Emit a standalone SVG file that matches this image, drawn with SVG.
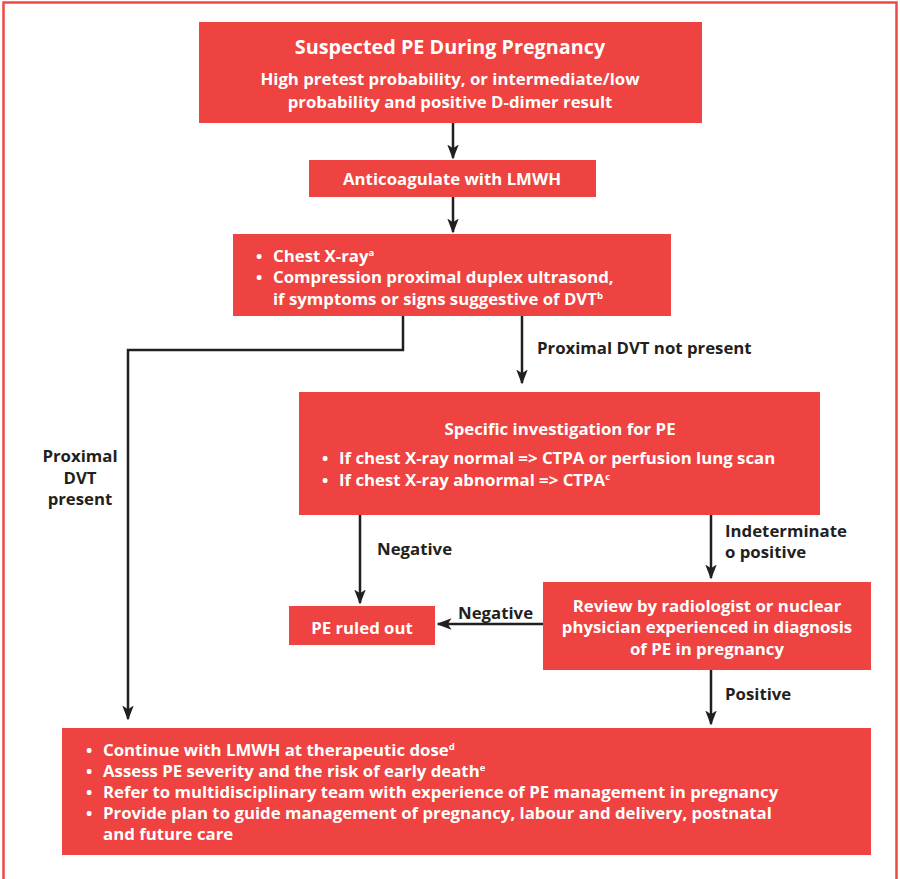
<svg xmlns="http://www.w3.org/2000/svg" width="900" height="879" viewBox="0 0 900 879">
  <defs>
    <marker id="arrow" viewBox="0 0 10 10" refX="9" refY="5" markerWidth="6" markerHeight="4.6" markerUnits="strokeWidth" orient="auto" preserveAspectRatio="none">
      <path d="M0,0 L10,5 L0,10 L2.5,5 Z" fill="#231f20"/>
    </marker>
    <style>
      .box { fill: #ee4340; }
      .t { font-family: "Open Sans", "Liberation Sans", Arial, sans-serif; font-weight: bold; fill: #ffffff; font-size: 16.8px; }
      .title { font-size: 19.8px; }
      .mid { text-anchor: middle; }
      .lbl { font-family: "Open Sans", "Liberation Sans", Arial, sans-serif; font-weight: bold; fill: #231f20; font-size: 16.8px; }
      .sup { font-size: 9.5px; }
      .edge { fill: none; stroke: #231f20; stroke-width: 2.5; marker-end: url(#arrow); }
    </style>
  </defs>

  <rect x="3.5" y="2.5" width="893" height="900" fill="#ffffff" stroke="#f04a45" stroke-width="2.5"/>

  <g id="connectors">
    <path class="edge" d="M453,123 V158"/>
    <path class="edge" d="M453,197 V232"/>
    <path class="edge" d="M403,316 V350 H128 V719"/>
    <path class="edge" d="M522,316 V383"/>
    <path class="edge" d="M360,515 V603"/>
    <path class="edge" d="M711,515 V578"/>
    <path class="edge" d="M543,624 H438"/>
    <path class="edge" d="M711,670 V724"/>
    <text class="lbl" x="537" y="354">Proximal DVT not present</text>
    <text class="lbl mid" x="80" y="462">Proximal</text>
    <text class="lbl mid" x="80" y="484">DVT</text>
    <text class="lbl mid" x="80" y="505">present</text>
    <text class="lbl" x="377" y="555">Negative</text>
    <text class="lbl" x="725" y="537">Indeterminate</text>
    <text class="lbl" x="725" y="558">o positive</text>
    <text class="lbl" x="458" y="619">Negative</text>
    <text class="lbl" x="725" y="700">Positive</text>
  </g>

  <g id="suspected">
    <rect class="box" x="199" y="22" width="503" height="101"/>
    <text class="t title mid" x="450" y="54">Suspected PE During Pregnancy</text>
    <text class="t mid" x="450" y="85">High pretest probability, or intermediate/low</text>
    <text class="t mid" x="450" y="108">probability and positive D-dimer result</text>
  </g>

  <g id="anticoagulate">
    <rect class="box" x="309" y="160" width="287" height="37"/>
    <text class="t mid" x="452" y="185">Anticoagulate with LMWH</text>
  </g>

  <g id="xray">
    <rect class="box" x="233" y="234" width="438" height="82"/>
    <text class="t" x="256" y="262">•</text>
    <text class="t" x="273" y="262">Chest X-ray<tspan class="sup" dy="-6">a</tspan></text>
    <text class="t" x="256" y="283">•</text>
    <text class="t" x="273" y="283">Compression proximal duplex ultrasond,</text>
    <text class="t" x="273" y="305">if symptoms or signs suggestive of DVT<tspan class="sup" dy="-6">b</tspan></text>
  </g>

  <g id="investigation">
    <rect class="box" x="299" y="392" width="521" height="123"/>
    <text class="t mid" x="560" y="435">Specific investigation for PE</text>
    <text class="t" x="322" y="464">•</text>
    <text class="t" x="339" y="464">If chest X-ray normal =&gt; CTPA or perfusion lung scan</text>
    <text class="t" x="322" y="486">•</text>
    <text class="t" x="339" y="486">If chest X-ray abnormal =&gt; CTPA<tspan class="sup" dy="-6">c</tspan></text>
  </g>

  <g id="ruled-out">
    <rect class="box" x="289" y="606" width="146" height="39"/>
    <text class="t mid" x="362" y="634">PE ruled out</text>
  </g>

  <g id="review">
    <rect class="box" x="543" y="582" width="328" height="88"/>
    <text class="t mid" x="707" y="612">Review by radiologist or nuclear</text>
    <text class="t mid" x="707" y="633">physician experienced in diagnosis</text>
    <text class="t mid" x="707" y="655">of PE in pregnancy</text>
  </g>

  <g id="treatment">
    <rect class="box" x="62" y="728" width="809" height="127"/>
    <text class="t" x="86" y="756">•</text>
    <text class="t" x="103" y="756">Continue with LMWH at therapeutic dose<tspan class="sup" dy="-6">d</tspan></text>
    <text class="t" x="86" y="777">•</text>
    <text class="t" x="103" y="777">Assess PE severity and the risk of early death<tspan class="sup" dy="-6">e</tspan></text>
    <text class="t" x="86" y="798">•</text>
    <text class="t" x="103" y="798">Refer to multidisciplinary team with experience of PE management in pregnancy</text>
    <text class="t" x="86" y="819">•</text>
    <text class="t" x="103" y="819">Provide plan to guide management of pregnancy, labour and delivery, postnatal</text>
    <text class="t" x="103" y="840">and future care</text>
  </g>
</svg>
